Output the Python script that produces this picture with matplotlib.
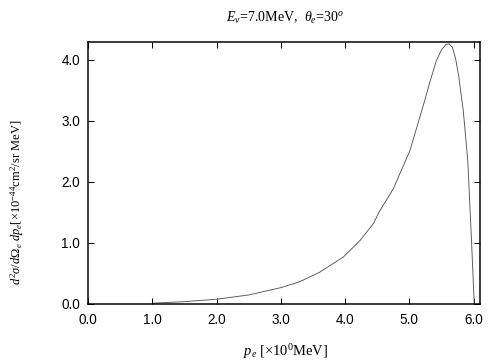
import matplotlib
matplotlib.use("Agg")
import matplotlib.pyplot as plt

p_e = [1.0, 1.5, 2.0, 2.5, 3.0, 3.3, 3.6, 3.97, 4.23, 4.44, 4.54, 4.75, 5.01,
       5.24, 5.33, 5.42, 5.50, 5.57, 5.62, 5.67, 5.72, 5.77, 5.84, 5.91, 5.97, 6.01]
xsec = [0.005, 0.03, 0.07, 0.14, 0.26, 0.36, 0.51, 0.76, 1.03, 1.31, 1.52, 1.88, 2.51,
        3.33, 3.67, 3.98, 4.16, 4.25, 4.26, 4.20, 4.02, 3.72, 3.16, 2.34, 0.98, 0.0]
xticks = [0.0, 1.0, 2.0, 3.0, 4.0, 5.0, 6.0]
yticks = [0.0, 1.0, 2.0, 3.0, 4.0]

plt.rcParams['mathtext.fontset'] = 'custom'
plt.rcParams['mathtext.rm'] = 'Liberation Serif'
plt.rcParams['mathtext.it'] = 'Liberation Serif:italic'
plt.rcParams['mathtext.bf'] = 'Liberation Serif:bold'
fig = plt.figure(figsize=(7, 5), dpi=72)
ax = fig.add_axes([88/504, 1-303.5/360, (480-88)/504, (303.5-42)/360])
ax.plot(p_e, xsec, color='#555555', lw=0.9)
ax.set_xlim(0, 6.1)
ax.set_ylim(0, 4.29)
ax.set_xticks(xticks)
ax.set_yticks(yticks)
ax.set_xticklabels([f"{t:.1f}" for t in xticks], family='Liberation Sans', fontsize=13.5)
ax.set_yticklabels([f"{t:.1f}" for t in yticks], family='Liberation Sans', fontsize=13.5)
ax.tick_params(direction='in', length=6, width=1, top=True, right=True)
ax.tick_params(axis='x', pad=9)
ax.tick_params(axis='y', pad=8)
for s in ax.spines.values():
    s.set_linewidth(1.5)

serif = 'Liberation Serif'
fig.text(285/504, 1-18/360, r"$E_{\nu}$=7.0MeV,  $\theta_e$=30$^o$", ha='center', va='center',
         family=serif, fontsize=14)
fig.text(286/504, 1-352/360, r"$p_e$ [$\times$10$^0$MeV]", ha='center', va='center',
         family=serif, fontsize=14.5)
fig.text(17/504, 1-202/360, r"$d^2\sigma/d\Omega_e\ dp_e$[$\times$10$^{-44}$cm$^2$/sr MeV]",
         ha='center', va='center', rotation=90, family=serif, fontsize=12.5)
fig.savefig("out.png", dpi=72)
